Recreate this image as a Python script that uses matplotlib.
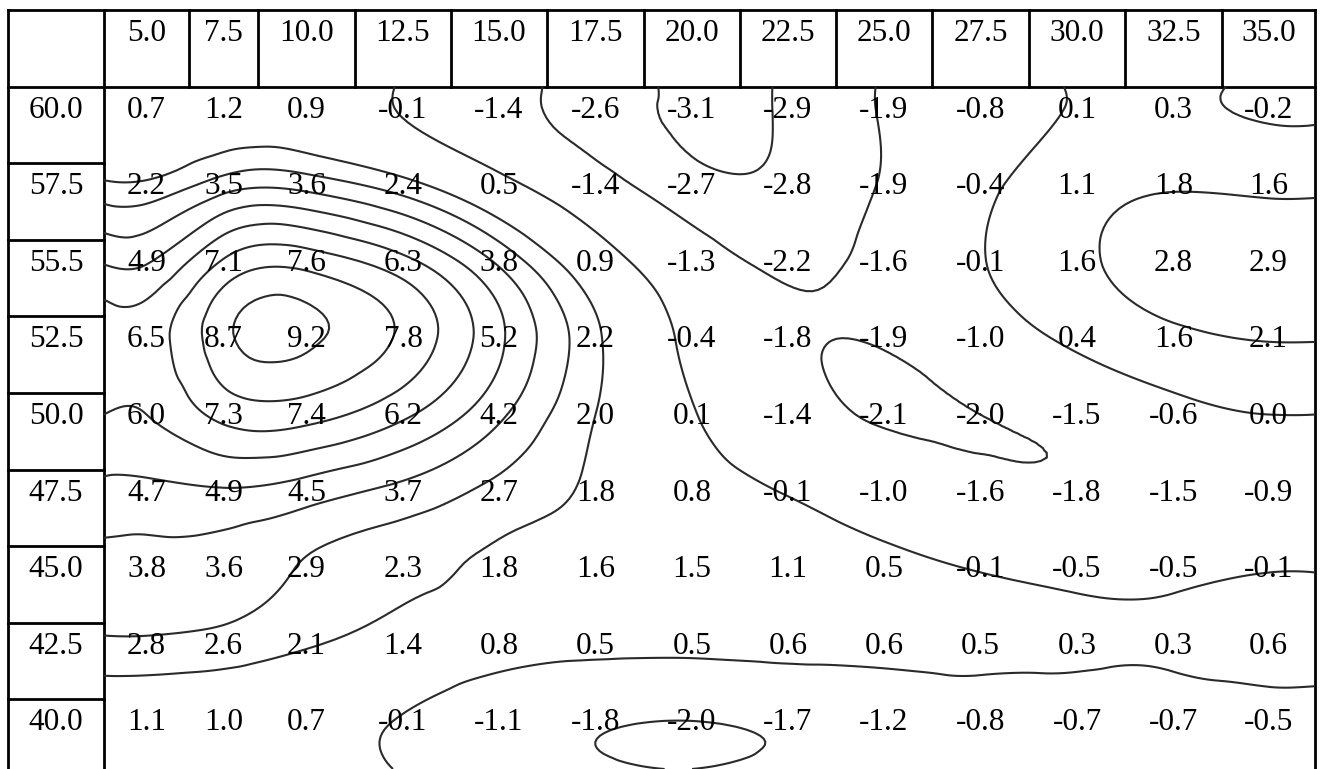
# Table of values with isolines drawn over the body cells

import numpy as np
import matplotlib
matplotlib.use('Agg')
import matplotlib.pyplot as plt
import matplotlib.tri as mtri
from matplotlib.patches import Rectangle

LONS = ['5.0', '7.5', '10.0', '12.5', '15.0', '17.5', '20.0',
        '22.5', '25.0', '27.5', '30.0', '32.5', '35.0']
LATS = ['60.0', '57.5', '55.5', '52.5', '50.0', '47.5', '45.0', '42.5', '40.0']

row_600 = [0.7, 1.2, 0.9, -0.1, -1.4, -2.6, -3.1, -2.9, -1.9, -0.8, 0.1, 0.3, -0.2]
row_575 = [2.2, 3.5, 3.6, 2.4, 0.5, -1.4, -2.7, -2.8, -1.9, -0.4, 1.1, 1.8, 1.6]
row_555 = [4.9, 7.1, 7.6, 6.3, 3.8, 0.9, -1.3, -2.2, -1.6, -0.1, 1.6, 2.8, 2.9]
row_525 = [6.5, 8.7, 9.2, 7.8, 5.2, 2.2, -0.4, -1.8, -1.9, -1.0, 0.4, 1.6, 2.1]
row_500 = [6.0, 7.3, 7.4, 6.2, 4.2, 2.0, 0.1, -1.4, -2.1, -2.0, -1.5, -0.6, 0.0]
row_475 = [4.7, 4.9, 4.5, 3.7, 2.7, 1.8, 0.8, -0.1, -1.0, -1.6, -1.8, -1.5, -0.9]
row_450 = [3.8, 3.6, 2.9, 2.3, 1.8, 1.6, 1.5, 1.1, 0.5, -0.1, -0.5, -0.5, -0.1]
row_425 = [2.8, 2.6, 2.1, 1.4, 0.8, 0.5, 0.5, 0.6, 0.6, 0.5, 0.3, 0.3, 0.6]
row_400 = [1.1, 1.0, 0.7, -0.1, -1.1, -1.8, -2.0, -1.7, -1.2, -0.8, -0.7, -0.7, -0.5]

LEVELS = [-3, -2, 0, 2, 3, 4, 5, 6, 7, 8, 9]

# layout (pixels)
W, H = 1323, 769
COL_EDGES = [8, 104, 189, 258, 355, 451, 547, 644, 740, 836, 932, 1029, 1125, 1222, 1315]
TOP = 10
ROW_H = 76.6
FONT = dict(family='Liberation Serif', fontsize=22.5, color='black')


def create():
    values = np.array([row_600, row_575, row_555, row_525, row_500,
                       row_475, row_450, row_425, row_400])

    fig = plt.figure(figsize=(W / 100, H / 100), dpi=100)
    ax = fig.add_axes([0, 0, 1, 1])
    ax.set_xlim(0, W)
    ax.set_ylim(H, 0)
    ax.axis('off')

    left, lab_right, right = COL_EDGES[0], COL_EDGES[1], COL_EDGES[-1]
    body_top = TOP + ROW_H
    line = dict(color='black', lw=2, solid_capstyle='projecting')

    # table frame
    ax.plot([left, right], [TOP, TOP], **line)
    ax.plot([left, right], [body_top, body_top], **line)
    ax.plot([left, left], [TOP, H + 5], **line)
    ax.plot([right, right], [TOP, H + 5], **line)
    ax.plot([lab_right, lab_right], [TOP, H + 5], **line)
    for x in COL_EDGES[2:-1]:
        ax.plot([x, x], [TOP, body_top], **line)
    for i in range(2, len(LATS) + 1):
        y = TOP + ROW_H * i
        ax.plot([left, lab_right], [y, y], **line)

    centers = [(a + b) / 2 for a, b in zip(COL_EDGES[:-1], COL_EDGES[1:])]

    # header and row labels
    for cx, lab in zip(centers[1:], LONS):
        ax.text(cx, TOP + 31, lab, ha='center', va='baseline', **FONT)
    for i, lab in enumerate(LATS):
        y0 = TOP + ROW_H * (i + 1)
        ax.text(centers[0], y0 + 31, lab, ha='center', va='baseline', **FONT)
        for j, v in enumerate(values[i]):
            ax.text(centers[j + 1], y0 + 31, f'{v:.1f}', ha='center',
                    va='baseline', zorder=3, **FONT)

    # isolines of the table values, smoothed on a refined triangulation
    xs = [lab_right] + centers[1:] + [right]
    ys = [body_top] + [TOP + ROW_H * (i + 1) + 21.5 for i in range(len(LATS))] + [H]
    gx, gy = np.meshgrid(xs, ys)
    zp = np.pad(values, 1, mode='edge')
    triang = mtri.Triangulation(gx.ravel(), gy.ravel())
    refiner = mtri.UniformTriRefiner(triang)
    tri_f, z_f = refiner.refine_field(zp.ravel(), subdiv=4)
    cs = ax.tricontour(tri_f, z_f, levels=LEVELS, colors='#2a2a2a',
                       linewidths=1.5, linestyles='solid')
    cs.set_clip_path(Rectangle((lab_right, body_top), right - lab_right,
                               H - body_top, transform=ax.transData))

    fig.savefig('out.png', dpi=100)


if __name__ == "__main__":
    create()
